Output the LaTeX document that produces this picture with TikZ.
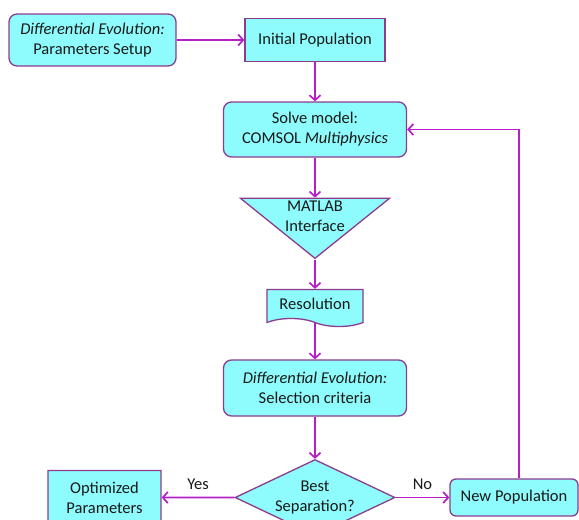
\documentclass[tikz,border=0pt]{standalone}
\usepackage{fontspec}
\setmainfont{Carlito}
\usetikzlibrary{positioning,shapes.geometric,shapes.symbols,arrows.meta}
\definecolor{boxfill}{HTML}{8EFCFC}
\definecolor{boxline}{HTML}{8B3C90}
\definecolor{flowline}{HTML}{B420C6}

\begin{document}
\begin{tikzpicture}[on grid,
  every node/.style={font=\fontsize{16.5}{20}\selectfont, align=center, text=black!90},
  box/.style={draw=boxline, fill=boxfill, line width=1.3pt, inner sep=2pt},
  rbox/.style={box, rounded corners=8pt},
  docbox/.style={box, tape, tape bend top=none, tape bend bottom=out and in, tape bend height=8pt},
  tribox/.style={box, isosceles triangle, shape border rotate=270, isosceles triangle stretches, inner sep=0pt},
  flow/.style={-{Straight Barb[length=5pt,width=11pt]}, draw=flowline, line width=1.7pt}]
  \useasboundingbox (0,0) rectangle (579pt,-520pt);
  \clip (0,0) rectangle (579pt,-520pt);
  % main column
  \node[box, minimum width=140pt, minimum height=43pt] (init) at (315pt,-40pt) {Initial Population};
  \node[rbox, minimum width=167pt, minimum height=52pt] (setup) [left=222.5pt of init] {\textit{Differential Evolution:}\\Parameters Setup};
  \node[rbox, minimum width=183pt, minimum height=55pt] (solve) [below=89.5pt of init] {Solve model:\\COMSOL \textit{Multiphysics}};
  \node[tribox, anchor=north, minimum width=149pt, minimum height=60pt] (matlab) at ([yshift=-40pt]solve.south) {};
  \node (matlabtxt) at ([yshift=-19pt]matlab.north) {MATLAB\\Interface};
  \node[docbox, minimum width=96pt, minimum height=37pt] (resol) [below=174.5pt of solve] {Resolution};
  \node[rbox, minimum width=183pt, minimum height=56pt] (select) [below=84pt of resol] {\textit{Differential Evolution:}\\Selection criteria};
  \node[box, diamond, aspect=2, inner sep=0pt, minimum width=160pt, minimum height=76pt] (best) [below=109.5pt of select] {Best\\Separation?};
  % outcomes
  \node[docbox, minimum width=113pt, minimum height=62pt] (optim) [left=210.5pt of best] {Optimized\\Parameters};
  \node[rbox, rounded corners=6pt, minimum width=128pt, minimum height=37pt] (newpop) [right=199pt of best] {New Population};

  \draw[flow] (setup) -- (init);
  \draw[flow] (init) -- (solve);
  \draw[flow] (solve) -- (matlab.north);
  \draw[flow] (matlab.apex) -- (resol);
  \draw[flow] (resol) -- (select);
  \draw[flow] (select) -- (best);
  \draw[flow] (best) -- node[above=4pt] {Yes} (optim);
  \draw[flow] (best) -- node[above=4pt] {No} (newpop);
  \draw[flow] ([xshift=5pt]newpop.north) |- (solve.east);
\end{tikzpicture}
\end{document}
